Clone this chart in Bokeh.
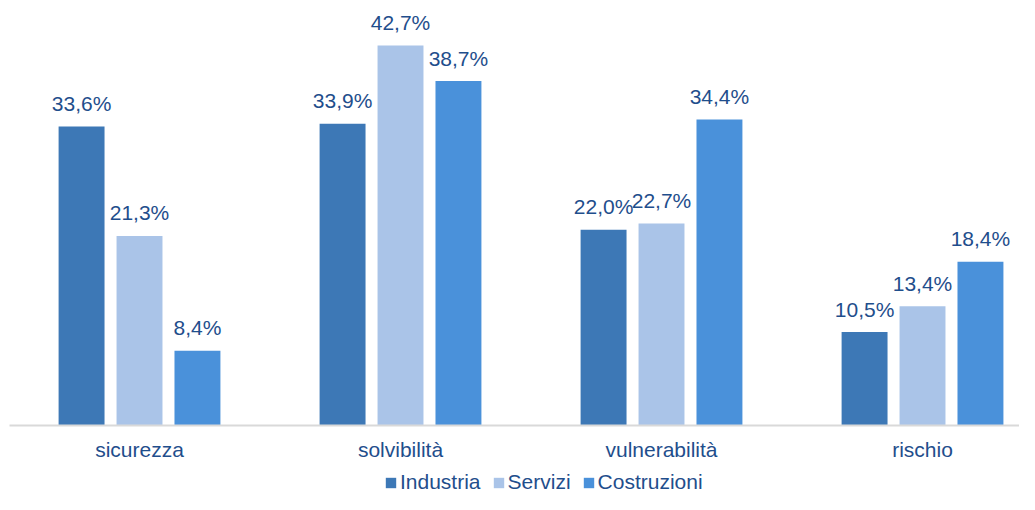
from bokeh.plotting import figure
from bokeh.models import Range1d, FixedTicker, ColumnDataSource, Legend, LegendItem, LinearAxis
from bokeh.embed import file_html
from bokeh.resources import INLINE
from bokeh.core.properties import value

categories = ["sicurezza", "solvibilità", "vulnerabilità", "rischio"]
series = ["Industria", "Servizi", "Costruzioni"]
industria = [33.6, 33.9, 22.0, 10.5]
servizi = [21.3, 42.7, 22.7, 13.4]
costruzioni = [8.4, 38.7, 34.4, 18.4]
colors = ["#3d78b6", "#aac4e8", "#4a91da"]

TEXT = "#1f4e8c"
FONT = "Liberation Sans"

W, H = 1019, 494
p = figure(width=W, height=H, output_backend="svg", toolbar_location=None,
           x_axis_location=None, y_axis_location=None,
           x_range=Range1d(-0.0326, 3.8716), y_range=Range1d(-7.754, 47.76),
           min_border_left=0, min_border_right=0, min_border_top=0, min_border_bottom=0)
p.outline_line_color = None
p.xgrid.visible = False
p.ygrid.visible = False

xa = LinearAxis(fixed_location=0, bounds=(0, 3.8716))
xa.ticker = FixedTicker(ticks=[i + 0.5 for i in range(len(categories))])
xa.major_label_overrides = {i + 0.5: c for i, c in enumerate(categories)}
xa.major_tick_line_color = None
xa.minor_tick_line_color = None
xa.major_tick_out = 0
xa.major_tick_in = 0
xa.axis_line_color = "#d9d9d9"
xa.axis_line_width = 2
xa.major_label_standoff = 13
xa.major_label_text_font = FONT
xa.major_label_text_font_size = "21px"
xa.major_label_text_color = TEXT
p.add_layout(xa, "below")

offsets = [-0.222, 0.0, 0.222]
bw = 0.176
items = []
for s, vals, col, off in zip(series, [industria, servizi, costruzioni], colors, offsets):
    src = ColumnDataSource(dict(
        x=[i + 0.5 + off for i in range(len(categories))],
        top=vals,
        lab=[f"{v:.1f}".replace(".", ",") + "%" for v in vals],
    ))
    r = p.vbar(x="x", top="top", width=bw, bottom=0, source=src,
               fill_color=col, line_color=None)
    p.text(x="x", y="top", text="lab", source=src, text_align="center",
           text_baseline="alphabetic", y_offset=-23, text_font=value(FONT),
           text_font_size="21px", text_color=TEXT)
    items.append(LegendItem(label=s, renderers=[r]))

legend = Legend(items=items, orientation="horizontal", location=(384, 0),
                glyph_width=13, glyph_height=13, label_standoff=3, spacing=11,
                label_text_font=FONT, label_text_font_size="21px",
                label_text_color=TEXT, border_line_color=None,
                background_fill_alpha=0, padding=0, margin=0)
p.add_layout(legend)

open("out.html", "w").write(file_html(p, INLINE))
